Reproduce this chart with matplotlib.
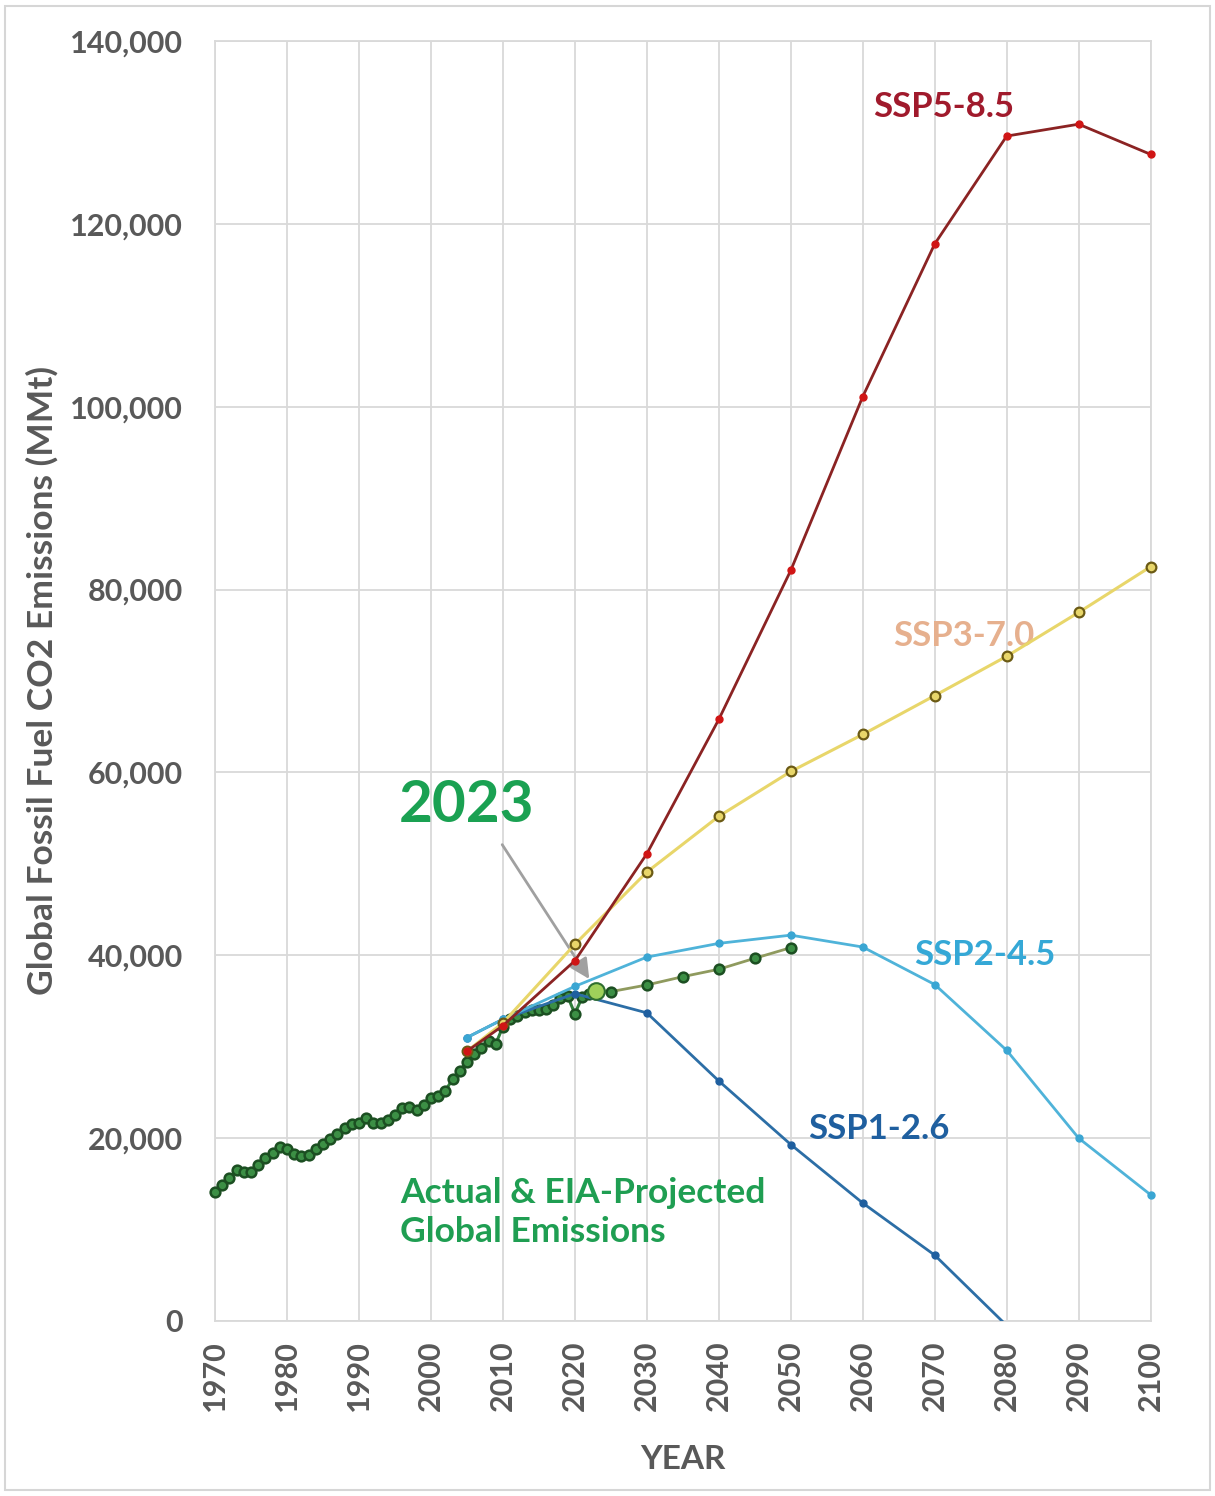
import numpy as np
import matplotlib.pyplot as plt
from matplotlib.patches import Rectangle

plt.rcParams['font.family'] = ['Lato', 'DejaVu Sans']

# actual global emissions (MMt), 1970-2022
hist_years = list(range(1970, 2023))
hist_vals = [14150, 14870, 15600, 16500, 16330, 16250, 17060, 17790, 18340, 18990,
             18770, 18260, 18050, 18160, 18770, 19360, 19870, 20420, 21140, 21510,
             21700, 22200, 21600, 21700, 21980, 22530, 23260, 23370, 23080, 23620,
             24350, 24610, 25190, 26430, 27380, 28360, 29200, 29900, 30600, 30300,
             32200, 33000, 33400, 33800, 34000, 34000, 34100, 34600, 35300, 35500,
             33600, 35400, 35800]

# EIA projection
proj_years = [2023, 2025, 2030, 2035, 2040, 2045, 2050]
proj_vals = [36130, 36020, 36750, 37660, 38470, 39670, 40830]

# SSP scenarios
ssp_years = [2005, 2010, 2020, 2030, 2040, 2050, 2060, 2070, 2080, 2090, 2100]
ssp585 = [29500, 32300, 39400, 51100, 65800, 82100, 101100, 117800, 129600, 130900, 127600]
ssp370 = [29500, 32600, 41200, 49100, 55200, 60100, 64150, 68400, 72700, 77500, 82500]
ssp245 = [31000, 33000, 36600, 39800, 41300, 42200, 40900, 36800, 29600, 20000, 13800]
ssp126 = [31000, 33000, 35800, 33700, 26250, 19300, 12900, 7200, -500]

x_ticks = list(range(1970, 2101, 10))
y_ticks = list(range(0, 140001, 20000))

fig = plt.figure(figsize=(12.15, 14.96), dpi=100)
ax = fig.add_axes([0.177, 0.117, 0.770, 0.8556])

# historical line
ax.plot(hist_years, hist_vals, '-', color='#2f7d3a', lw=2.2, zorder=3)
ax.plot(hist_years, hist_vals, 'o', ms=7, mfc='#3c8f45', mec='#1c4f22',
        mew=1.8, zorder=3, clip_on=False)

ax.plot(ssp_years[:len(ssp126)], ssp126, '-o', color='#2c6ea6', lw=2, ms=5,
        mfc='#1f5f9f', mec='#1f5f9f', zorder=4)
ax.plot(ssp_years, ssp245, '-o', color='#4fb3d9', lw=2, ms=5,
        mfc='#3aa6d3', mec='#3aa6d3', zorder=4, clip_on=False)
ax.plot(ssp_years, ssp370, '-o', color='#e8d66a', lw=2.2, ms=7,
        mfc='#e8d66a', mec='#6b5a14', mew=1.6, zorder=4, clip_on=False)
ax.plot(ssp_years, ssp585, '-o', color='#8b2323', lw=2, ms=5,
        mfc='#d01515', mec='#d01515', zorder=5, clip_on=False)

# projection
ax.plot(proj_years, proj_vals, '-o', color='#8f9a5e', lw=2, ms=7,
        mfc='#3c8f45', mec='#1c4f22', mew=1.8, zorder=6)
ax.plot(proj_years[0], proj_vals[0], 'o', ms=12, mfc='#9fd05a',
        mec='#2f6e2f', mew=1.5, zorder=7)

ax.set_xlim(1970, 2100)
ax.set_ylim(0, 140000)
ax.set_xticks(x_ticks)
ax.set_yticks(y_ticks)
ax.set_xticklabels([str(x) for x in x_ticks], rotation=90)
ax.set_yticklabels([f'{y:,}' for y in y_ticks])
ax.tick_params(length=0, labelsize=22, labelcolor='#595959')
ax.tick_params(axis='x', pad=14)
ax.tick_params(axis='y', pad=23)
for lab in ax.get_xticklabels() + ax.get_yticklabels():
    lab.set_fontweight('bold')
ax.grid(True, color='#d9d9d9', lw=1.3)
ax.set_axisbelow(True)
for s in ax.spines.values():
    s.set_color('#d9d9d9')
    s.set_linewidth(1.3)

ax.set_xlabel('YEAR', fontsize=24, fontweight='bold', color='#595959', labelpad=24)
ax.set_ylabel('Global Fossil Fuel CO2 Emissions (MMt)', fontsize=25.5,
              fontweight='bold', color='#595959', labelpad=8)

# labels
ax.text(2071.3, 132800, 'SSP5-8.5', color='#a01a2c', fontsize=25,
        fontweight='bold', ha='center', va='center')
ax.text(2074.0, 74900, 'SSP3-7.0', color='#e6b08e', fontsize=25,
        fontweight='bold', ha='center', va='center', zorder=1)
ax.text(2076.9, 40000, 'SSP2-4.5', color='#35a8d6', fontsize=25,
        fontweight='bold', ha='center', va='center')
ax.text(2062.3, 20950, 'SSP1-2.6', color='#1f5f9f', fontsize=25,
        fontweight='bold', ha='center', va='center')
ax.text(1995.7, 11850, 'Actual & EIA-Projected\nGlobal Emissions', color='#1f9e52',
        fontsize=25.5, fontweight='bold', ha='left', va='center', linespacing=1.25)
ax.text(2004.9, 56400, '2023', color='#1aa152', fontsize=42, fontweight='bold',
        ha='center', va='center')
ax.annotate('', xy=(2022.0, 37400), xytext=(2009.9, 52100),
            arrowprops=dict(arrowstyle='-|>', color='#a0a0a0', lw=2,
                            mutation_scale=30, shrinkA=0, shrinkB=0))

fig.patches.append(Rectangle((0.004, 0.004), 0.992, 0.992, transform=fig.transFigure,
                             fill=False, edgecolor='#d6d6d6', lw=1.5))

fig.savefig('out.png', dpi=100, facecolor='white')
